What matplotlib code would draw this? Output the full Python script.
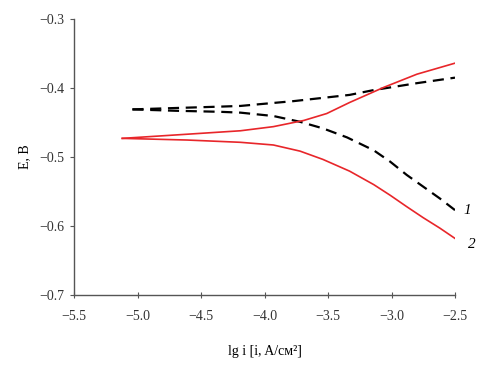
import matplotlib
matplotlib.use("Agg")
import matplotlib.pyplot as plt

plt.rcParams['font.family'] = ['Liberation Serif', 'DejaVu Serif']
plt.rcParams['axes.unicode_minus'] = True

# Curve 1 (black dashed), anodic branch
x1a = [-5.04, -4.7, -4.35, -4.19, -3.77, -3.33, -3.14, -2.8, -2.5]
y1a = [-0.431, -0.429, -0.427, -0.426, -0.419, -0.410, -0.403, -0.393, -0.385]
# Curve 1 (black dashed), cathodic branch
x1c = [-5.04, -4.7, -4.35, -4.19, -3.93, -3.72, -3.54, -3.35, -3.14, -3.01, -2.88, -2.75, -2.62, -2.5]
y1c = [-0.431, -0.433, -0.4345, -0.4357, -0.4406, -0.449, -0.4585, -0.4716, -0.4903, -0.5068, -0.526, -0.543, -0.560, -0.577]
# Curve 2 (red), anodic branch
x2a = [-5.12, -4.61, -4.19, -3.93, -3.69, -3.51, -3.33, -3.06, -2.8, -2.5]
y2a = [-0.473, -0.467, -0.462, -0.456, -0.447, -0.437, -0.421, -0.399, -0.380, -0.364]
# Curve 2 (red), cathodic branch
x2c = [-5.12, -4.61, -4.19, -3.93, -3.72, -3.54, -3.33, -3.14, -3.01, -2.88, -2.75, -2.62, -2.5]
y2c = [-0.473, -0.4754, -0.4787, -0.4826, -0.4915, -0.5035, -0.5205, -0.540, -0.5555, -0.572, -0.588, -0.603, -0.618]

xticks = [-5.5, -5.0, -4.5, -4.0, -3.5, -3.0, -2.5]
yticks = [-0.7, -0.6, -0.5, -0.4, -0.3]
curve_labels = ['1', '2']

fig = plt.figure(figsize=(4.95, 3.65), dpi=100)
ax = fig.add_axes([74/495, 1-295/365, (455-74)/495, (295-19)/365])

dash = (0, (5, 3))
ax.plot(x1a, y1a, color='black', lw=1.6, linestyle=dash)
ax.plot(x1c, y1c, color='black', lw=1.6, linestyle=dash)
ax.plot(x2a, y2a, color='#e8262a', lw=1.2)
ax.plot(x2c, y2c, color='#e8262a', lw=1.2)

ax.set_xlim(-5.5, -2.5)
ax.set_ylim(-0.7, -0.3)
ax.set_xticks(xticks)
ax.set_yticks(yticks)
ax.set_xticklabels([f"{v:.1f}".replace('-', '\u2212') for v in xticks])
ax.set_yticklabels([f"{v:.1f}".replace('-', '\u2212') for v in yticks])

for s in ['top', 'right']:
    ax.spines[s].set_visible(False)
for s in ['left', 'bottom']:
    ax.spines[s].set_color('#555555')
    ax.spines[s].set_linewidth(1.0)
ax.tick_params(axis='x', direction='inout', length=5, color='#555555', labelsize=10, labelcolor='#333333', pad=8)
ax.tick_params(axis='y', direction='out', length=3, color='#555555', labelsize=10, labelcolor='#333333', pad=4)

ax.set_xlabel('lg i [i, A/см²]', fontsize=10, labelpad=16)
ax.set_ylabel('E, В', fontsize=10, labelpad=6)

ax.text(-2.43, y1c[-1], curve_labels[0], fontsize=11, style='italic', ha='left', va='center', clip_on=False)
ax.text(-2.40, y2c[-1] - 0.009, curve_labels[1], fontsize=11, style='italic', ha='left', va='center', clip_on=False)

fig.savefig('out.png', dpi=100)
